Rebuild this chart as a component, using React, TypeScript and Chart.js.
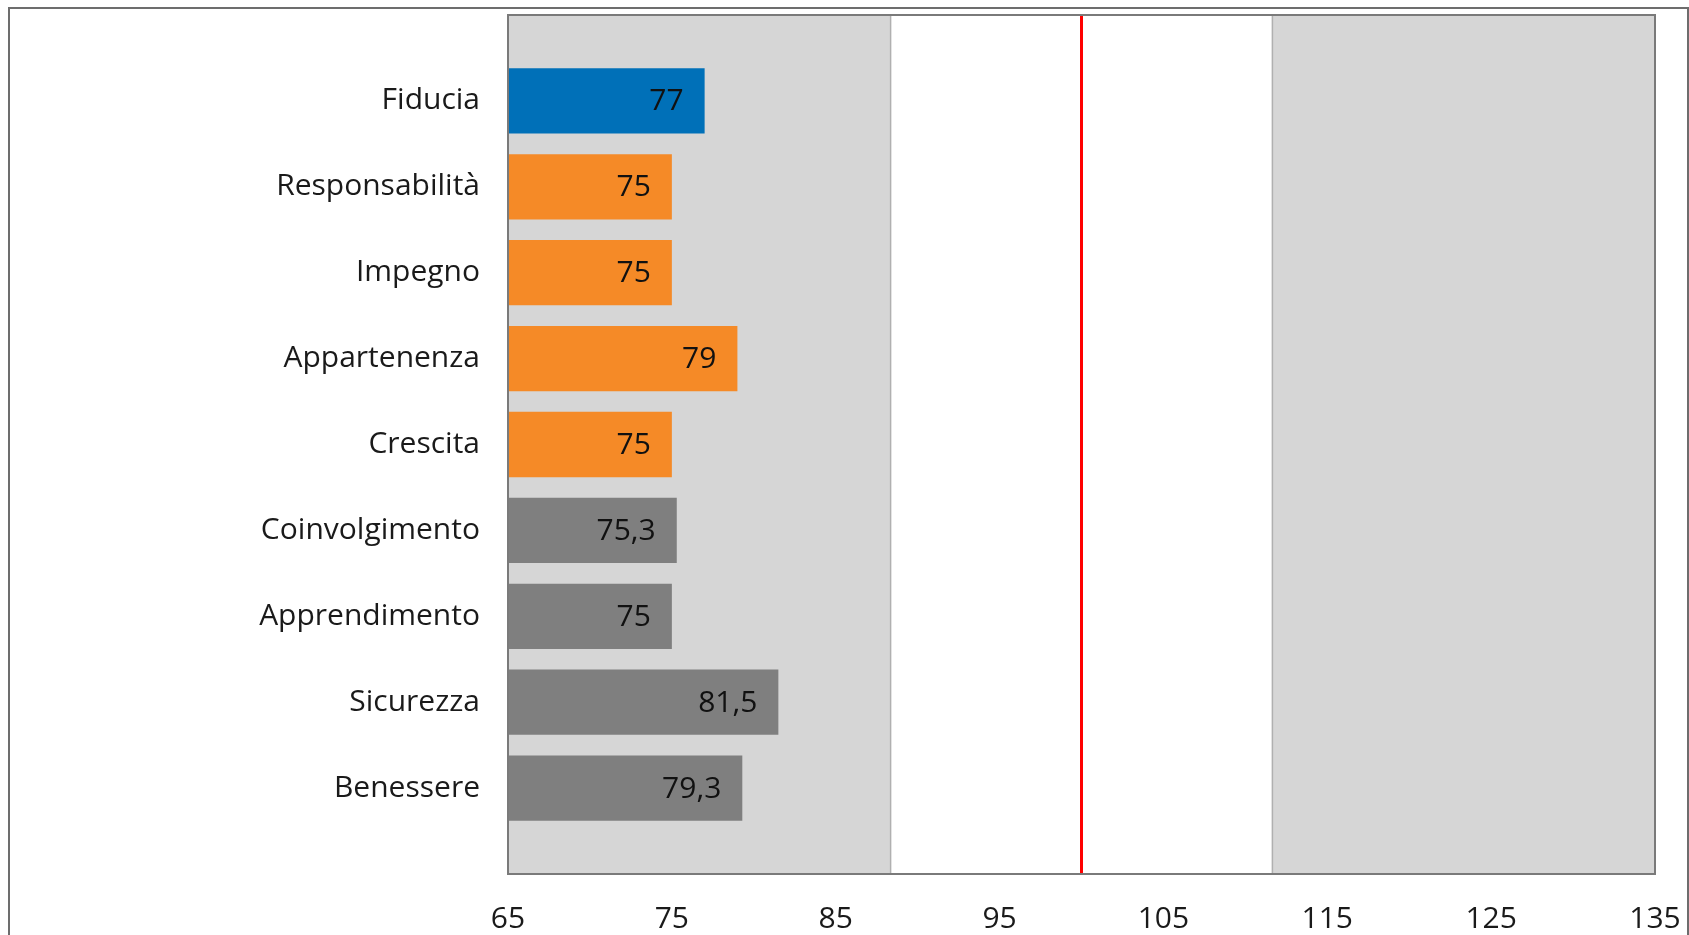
import React, { useEffect, useRef } from "react";
import { Chart, registerables } from "chart.js";

Chart.register(...registerables);

const categories = ["", "Fiducia", "Responsabilità", "Impegno", "Appartenenza", "Crescita", "Coinvolgimento", "Apprendimento", "Sicurezza", "Benessere", ""];
const values: (number | null)[] = [null, 77, 75, 75, 79, 75, 75.3, 75, 81.5, 79.3, null];
const barColors = ["#000000", "#0070b8", "#f58a27", "#f58a27", "#f58a27", "#f58a27", "#7f7f7f", "#7f7f7f", "#7f7f7f", "#7f7f7f", "#000000"];
const xMin = 65;
const xMax = 135;
const xStep = 10;
const bandLow = 88.35;
const bandHigh = 111.65;
const targetValue = 100;

const FONT = "'Open Sans', 'Noto Sans', sans-serif";

const backgroundPlugin = {
  id: "bgBands",
  beforeDatasetsDraw(chart: any) {
    const { ctx, chartArea, scales } = chart;
    const x = scales.x;
    const { left, right, top, bottom } = chartArea;
    ctx.save();
    ctx.fillStyle = "#d6d6d6";
    ctx.fillRect(left, top, right - left, bottom - top);
    const b1 = x.getPixelForValue(bandLow);
    const b2 = x.getPixelForValue(bandHigh);
    ctx.fillStyle = "#ffffff";
    ctx.fillRect(b1, top, b2 - b1, bottom - top);
    ctx.strokeStyle = "#b0b0b0";
    ctx.lineWidth = 1.5;
    ctx.beginPath();
    ctx.moveTo(b1, top);
    ctx.lineTo(b1, bottom);
    ctx.moveTo(b2, top);
    ctx.lineTo(b2, bottom);
    ctx.stroke();
    ctx.restore();
  },
  afterDatasetsDraw(chart: any) {
    const { ctx, chartArea, scales } = chart;
    const x = scales.x;
    const { left, right, top, bottom } = chartArea;
    ctx.save();
    const px = x.getPixelForValue(targetValue);
    ctx.strokeStyle = "#ff0000";
    ctx.lineWidth = 3;
    ctx.beginPath();
    ctx.moveTo(px, top);
    ctx.lineTo(px, bottom);
    ctx.stroke();

    // data labels
    const meta = chart.getDatasetMeta(0);
    ctx.fillStyle = "#111111";
    ctx.font = `30px ${FONT}`;
    ctx.textAlign = "right";
    ctx.textBaseline = "middle";
    meta.data.forEach((el: any, i: number) => {
      const v = values[i];
      if (v === null || v === undefined) return;
      const txt = String(v).replace(".", ",");
      ctx.fillText(txt, el.x - 21, el.y + 1);
    });

    // plot border
    ctx.strokeStyle = "#7a7a7a";
    ctx.lineWidth = 2;
    ctx.strokeRect(left, top, right - left, bottom - top);
    ctx.restore();
  },
};

export default function App() {
  const ref = useRef<HTMLCanvasElement | null>(null);
  useEffect(() => {
    if (!ref.current) return;
    const chart = new Chart(ref.current, {
      type: "bar",
      data: {
        labels: categories,
        datasets: [
          {
            data: values,
            backgroundColor: barColors,
            borderWidth: 0,
            barPercentage: 0.76,
            categoryPercentage: 1,
          },
        ],
      },
      options: {
        indexAxis: "y",
        animation: false,
        responsive: false,
        maintainAspectRatio: false,
        layout: { padding: { top: 6, right: 32, left: 0, bottom: 0 } },
        plugins: { legend: { display: false }, tooltip: { enabled: false } },
        scales: {
          x: {
            type: "linear",
            min: xMin,
            max: xMax,
            ticks: { stepSize: xStep, color: "#1a1a1a", font: { size: 30, family: FONT }, padding: 27, maxRotation: 0 },
            grid: { display: false, drawTicks: false },
            border: { display: false },
            afterFit: (scale: any) => {
              scale.height = 61;
              scale.paddingLeft = 0;
              scale.paddingRight = 0;
            },
          },
          y: {
            type: "category",
            offset: false,
            ticks: { color: "#1a1a1a", font: { size: 30, family: FONT }, padding: 28, autoSkip: false },
            grid: { display: false, drawTicks: false },
            border: { display: false },
            afterFit: (scale: any) => {
              scale.width = 498;
              scale.paddingTop = 0;
              scale.paddingBottom = 0;
            },
          },
        },
      },
      plugins: [backgroundPlugin],
    });
    return () => chart.destroy();
  }, []);

  return (
    <div
      style={{
        position: "absolute",
        left: 8,
        top: 7,
        width: 1681,
        height: 960,
        border: "2px solid #6d6d6d",
        boxSizing: "border-box",
        background: "#ffffff",
        overflow: "hidden",
      }}
    >
      <canvas ref={ref} width={1677} height={926} style={{ display: "block" }} />
    </div>
  );
}
